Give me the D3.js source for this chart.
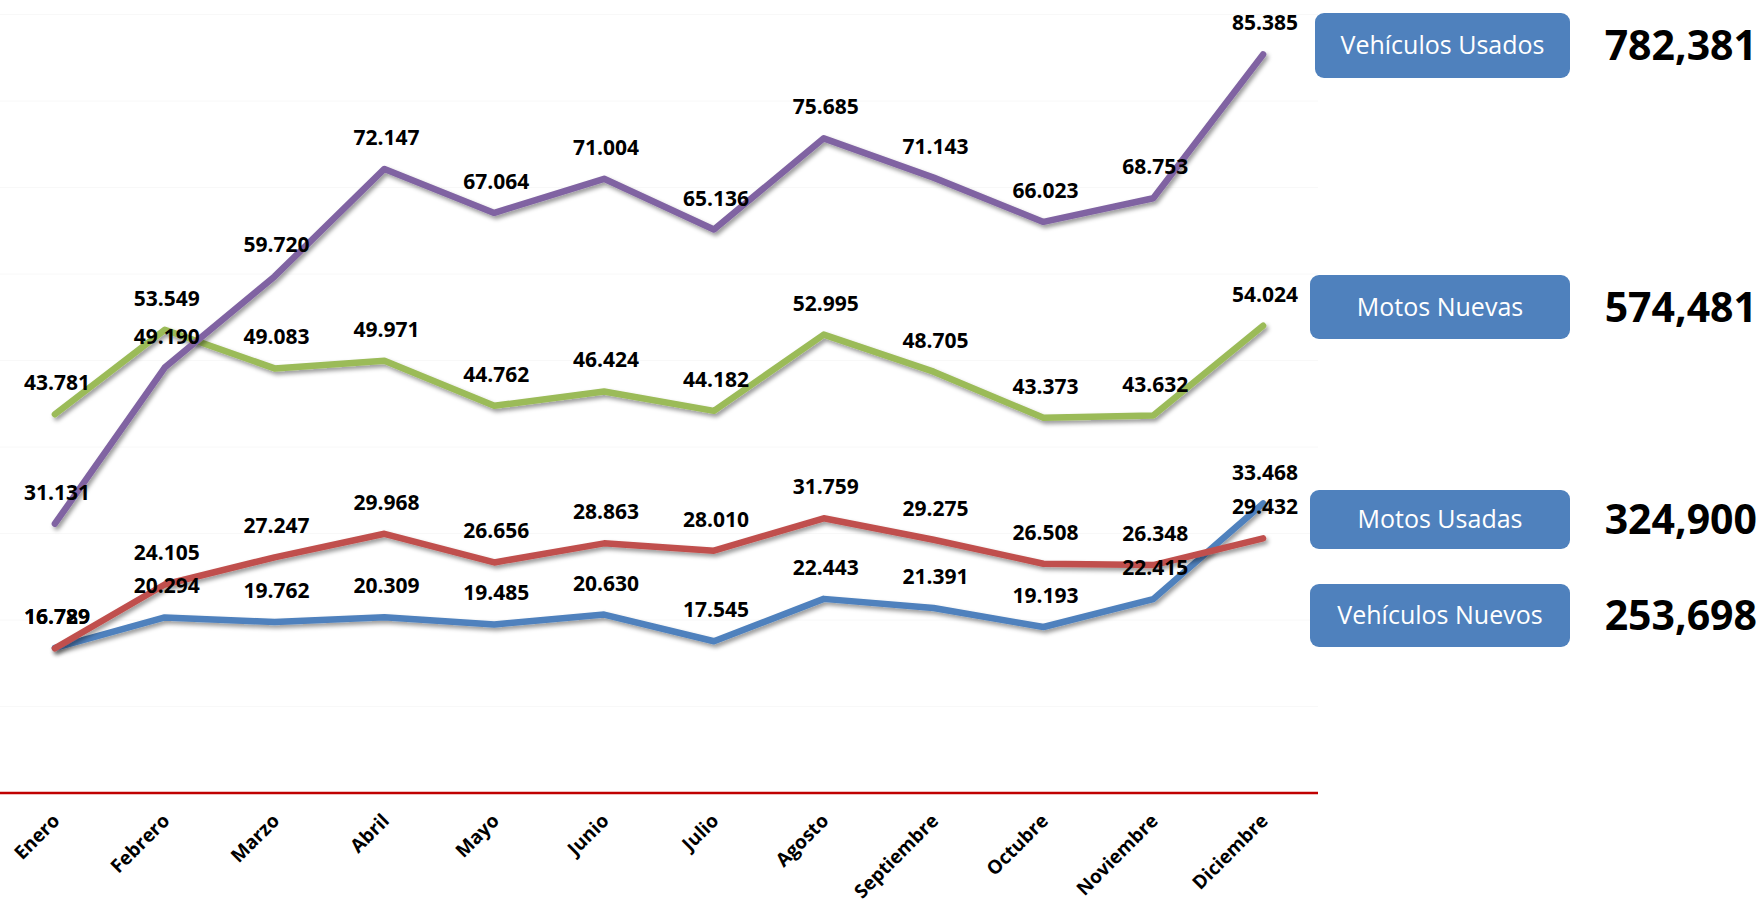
<!DOCTYPE html>
<html>
<head>
<meta charset="utf-8">
<script src="https://cdn.jsdelivr.net/npm/d3@7"></script>
<style>
  html, body { margin: 0; padding: 0; background: #ffffff; }
  svg { display: block; }
</style>
</head>
<body>
<svg id="chart" width="1763" height="904"></svg>
<script>
// ---------- DATA ----------
const months = ["Enero", "Febrero", "Marzo", "Abril", "Mayo", "Junio", "Julio",
                "Agosto", "Septiembre", "Octubre", "Noviembre", "Diciembre"];

const vehiculosUsados = [31131, 49190, 59720, 72147, 67064, 71004, 65136, 75685, 71143, 66023, 68753, 85385];
const motosNuevas     = [43781, 53549, 49083, 49971, 44762, 46424, 44182, 52995, 48705, 43373, 43632, 54024];
const motosUsadas     = [16729, 24105, 27247, 29968, 26656, 28863, 28010, 31759, 29275, 26508, 26348, 29432];
const vehiculosNuevos = [16789, 20294, 19762, 20309, 19485, 20630, 17545, 22443, 21391, 19193, 22415, 33468];

const seriesNames = ["Vehículos Usados", "Motos Nuevas", "Motos Usadas", "Vehículos Nuevos"];
const seriesTotals = [782381, 574481, 324900, 253698];
const yTicks = [10000, 20000, 30000, 40000, 50000, 60000, 70000, 80000, 90000];

// ---------- STYLE / LAYOUT ----------
const colors = {
  "Vehículos Usados": "#8064a2",
  "Motos Nuevas": "#9bbb59",
  "Motos Usadas": "#c0504d",
  "Vehículos Nuevos": "#4f81bd"
};
const seriesValues = {
  "Vehículos Usados": vehiculosUsados,
  "Motos Nuevas": motosNuevas,
  "Motos Usadas": motosUsadas,
  "Vehículos Nuevos": vehiculosNuevos
};
const drawOrder = ["Motos Nuevas", "Vehículos Usados", "Vehículos Nuevos", "Motos Usadas"];
const boxLayout = [
  { x: 1315, y: 13,  h: 65 },
  { x: 1310, y: 275, h: 64 },
  { x: 1310, y: 490, h: 59 },
  { x: 1310, y: 584, h: 63 }
];

const plot = { left: 0, right: 1318, top: 14.5, bottom: 793 };

const svg = d3.select("#chart");

const defs = svg.append("defs");
const filt = defs.append("filter").attr("id", "shadow")
  .attr("x", "-10%").attr("y", "-10%").attr("width", "120%").attr("height", "130%");
filt.append("feDropShadow").attr("dx", 2).attr("dy", 3).attr("stdDeviation", 2)
  .attr("flood-color", "#000").attr("flood-opacity", 0.4);

const x = d3.scaleBand().domain(months).range([plot.left, plot.right]);
const xc = m => x(m) + x.bandwidth() / 2;
const y = d3.scaleLinear().domain([0, 90000]).range([plot.bottom, plot.top]);

// gridlines
svg.append("g").selectAll("line").data(yTicks).join("line")
  .attr("x1", plot.left).attr("x2", plot.right)
  .attr("y1", d => y(d)).attr("y2", d => y(d))
  .attr("stroke", "#f8f8f8").attr("stroke-width", 1);

// x axis
const xAxis = svg.append("g")
  .attr("transform", `translate(0,${plot.bottom})`)
  .call(d3.axisBottom(x).tickSize(0).tickPadding(0));
xAxis.select(".domain").attr("stroke", "#c00000").attr("stroke-width", 2.5)
  .attr("d", `M${plot.left},0H${plot.right}`);
xAxis.selectAll(".tick text")
  .attr("font-family", "'Open Sans', sans-serif")
  .attr("font-weight", "bold")
  .attr("font-size", 19)
  .attr("fill", "#000")
  .attr("text-anchor", "end")
  .attr("dy", 0)
  .attr("y", 0)
  .attr("transform", "translate(6,29) rotate(-45)");

// lines
const line = d3.line().x((d, i) => xc(months[i])).y(d => y(d));
const gLines = svg.append("g");
drawOrder.forEach(name => {
  gLines.append("path")
    .datum(seriesValues[name])
    .attr("d", line)
    .attr("fill", "none")
    .attr("stroke", colors[name])
    .attr("stroke-width", 6.5)
    .attr("stroke-linecap", "round")
    .attr("stroke-linejoin", "round")
    .attr("filter", "url(#shadow)");
});

// data labels
const dotLocale = d3.formatLocale({ decimal: ",", thousands: ".", grouping: [3], currency: ["", ""] });
const fmtDot = dotLocale.format(",d");
const gLabels = svg.append("g");
drawOrder.forEach(name => {
  gLabels.selectAll(null).data(seriesValues[name]).join("text")
    .attr("x", (d, i) => xc(months[i]) + 2)
    .attr("y", d => y(d) - 24)
    .attr("text-anchor", "middle")
    .attr("font-family", "'Open Sans', sans-serif")
    .attr("font-weight", "bold")
    .attr("font-size", 21)
    .attr("fill", "#000")
    .text(d => fmtDot(d));
});

// legend boxes with totals
const fmtComma = d3.format(",d");
const gBoxes = svg.append("g");
seriesNames.forEach((name, i) => {
  const b = boxLayout[i];
  gBoxes.append("rect")
    .attr("x", b.x).attr("y", b.y)
    .attr("width", 1570 - b.x).attr("height", b.h)
    .attr("rx", 9).attr("ry", 9)
    .attr("fill", "#4f81bd");
  gBoxes.append("text")
    .attr("x", (b.x + 1570) / 2).attr("y", b.y + b.h / 2)
    .attr("dy", "0.35em")
    .attr("text-anchor", "middle")
    .attr("font-family", "'Open Sans', sans-serif")
    .attr("font-size", 25)
    .attr("fill", "#ffffff")
    .text(name);
  gBoxes.append("text")
    .attr("x", 1757).attr("y", b.y + b.h / 2)
    .attr("dy", "0.36em")
    .attr("text-anchor", "end")
    .attr("font-family", "'Open Sans', sans-serif")
    .attr("font-weight", "bold")
    .attr("font-size", 41)
    .attr("fill", "#000")
    .text(fmtComma(seriesTotals[i]));
});
</script>
</body>
</html>
